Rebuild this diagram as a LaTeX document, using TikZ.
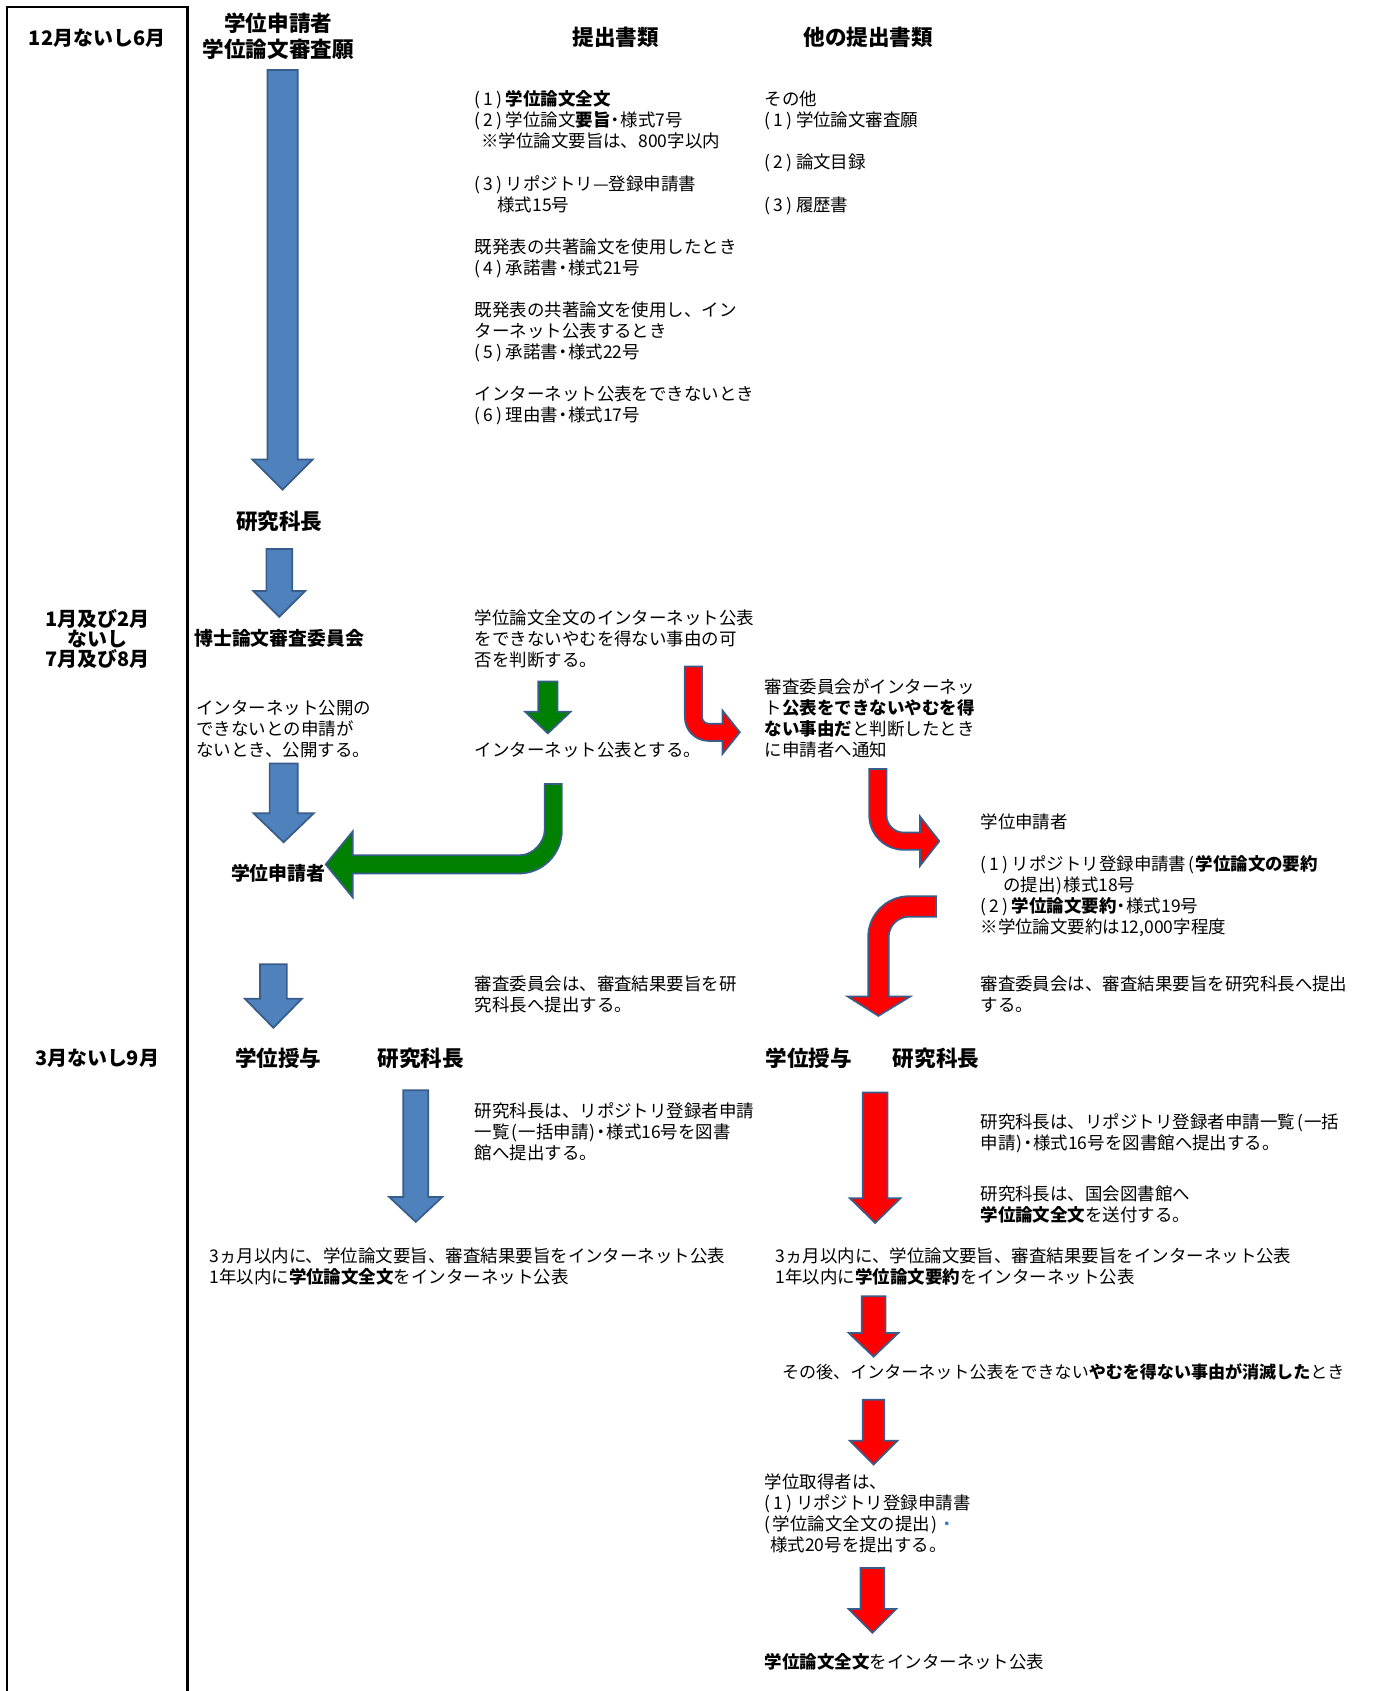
\documentclass[tikz,border=0pt]{standalone}
\usepackage{fontspec}
\setmainfont{Noto Sans CJK JP}
\definecolor{ablue}{HTML}{4F81BD}
\definecolor{aedge}{HTML}{385D8A}
\definecolor{ared}{HTML}{FF0000}
\definecolor{agreen}{HTML}{008000}
\definecolor{dotblue}{HTML}{2E75D6}
\newcommand\pn[1]{(\kern3pt#1\kern3pt)\kern3pt}
\newcommand\dt{\kern-0.22em・\kern-0.22em}
\newcommand\lp{\kern2pt(\kern1pt}
\newcommand\rp{\kern1pt)\kern1pt}
% straight down block arrow: style x1 x2 top headbase hx1 hx2 tip
\newcommand\downblock[8]{%
  \pgfmathsetmacro\cx{(#2+#3)/2}%
  \draw[#1] (#2,#4) -- (#3,#4) -- (#3,#5) -- (#7,#5) -- (\cx,#8) -- (#6,#5) -- (#2,#5) -- cycle;}
\begin{document}
\begin{tikzpicture}[x=1pt,y=-1pt,
  body/.style={anchor=base west, inner sep=0pt, align=left, text width=600pt, font=\fontsize{16.2}{19.5}\selectfont},
  head/.style={anchor=base, inner sep=0pt, font=\fontsize{20}{24}\selectfont\bfseries},
  month/.style={anchor=base, inner sep=0pt, align=center, text width=170pt, font=\fontsize{18.5}{18.5}\selectfont\bfseries},
  sub/.style={inner sep=0pt, font=\fontsize{17.5}{21}\selectfont\bfseries},
  blueblk/.style={fill=ablue, draw=aedge, line width=1.6pt, line join=miter},
  redblk/.style={fill=ared, draw=aedge, line width=1.6pt, line join=miter},
  greenblk/.style={fill=agreen, draw=aedge, line width=1.6pt, line join=miter}]
\useasboundingbox (0,0) rectangle (1282,1568);
\fill[white] (0,0) rectangle (1282,1568);
% month column frame
\draw[line width=2pt] (6.2,1570) -- (6.2,6.2) -- (173.8,6.2) -- (173.8,1570);
\node[month] (m1) at (90,42) {12月ないし6月};
\node[month] (m2) at (90,581) {1月及び2月\\ないし\\7月及び8月};
\node[month] (m3) at (90,988) {3月ないし9月};
% headers
\node[head, align=center, text width=220pt] (hdrA) at (258,29.6) {学位申請者\\学位論文審査願};
\node[head] (hdrB) at (571,42.6) {提出書類};
\node[head] (hdrC) at (805,42.6) {他の提出書類};
% documents
\node[body] (docs) at (440,98.2) {\pn{1}\textbf{学位論文全文}\\
\pn{2}学位論文\textbf{要旨}\dt 様式7号\\
\hspace*{6pt}※学位論文要旨は、800字以内\\[19.5pt]
\pn{3}リポジトリ—登録申請書\\
\hspace*{21pt}様式15号\\[19.5pt]
既発表の共著論文を使用したとき\\
\pn{4}承諾書\dt 様式21号\\[19.5pt]
既発表の共著論文を使用し、イン\\
ターネット公表するとき\\
\pn{5}承諾書\dt 様式22号\\[19.5pt]
インターネット公表をできないとき\\
\pn{6}理由書\dt 様式17号};
\node[body] (other) at (709,98.2) {その他\\
\pn{1}学位論文審査願\\[19.5pt]
\pn{2}論文目録\\[19.5pt]
\pn{3}履歴書};
% column 2 flow
\node[head] (kenkyu1) at (259,490.6) {研究科長};
\node[sub, anchor=base west] (iinkai) at (180,598.7) {博士論文審査委員会};
\node[body] (nopub) at (182,662.2) {インターネット公開の\\できないとの申請が\\ないとき、公開する。};
\node[sub, anchor=base] (appl1) at (258,816.7) {学位申請者};
\node[head] (grant1) at (258,988.6) {学位授与};
\node[head] (dean1) at (390,988.6) {研究科長};
\node[body] (pub1) at (194,1170.2) {3ヵ月以内に、学位論文要旨、審査結果要旨をインターネット公表\\1年以内に\textbf{学位論文全文}をインターネット公表};
% column 3 middle
\node[body] (judge) at (440,579.2) {学位論文全文のインターネット公表\\をできないやむを得ない事由の可\\否を判断する。};
\node[body] (pubok) at (440,701.2) {インターネット公表とする。};
\node[body] (rev1) at (440,918.2) {審査委員会は、審査結果要旨を研\\究科長へ提出する。};
\node[body] (lib1) at (440,1036.2) {研究科長は、リポジトリ登録者申請\\一覧\lp 一括申請\rp\dt 様式16号を図書\\館へ提出する。};
% right branch
\node[body] (notify) at (709,643.2) {審査委員会がインターネッ\\ト\textbf{公表をできないやむを得}\\\textbf{ない事由だ}と判断したとき\\に申請者へ通知};
\node[body] (appl2) at (909,768.2) {学位申請者\\[19.5pt]
\pn{1}リポジトリ登録申請書\lp\textbf{学位論文の要約}\\
\hspace*{21pt}の提出\rp 様式18号\\
\pn{2}\textbf{学位論文要約}\dt 様式19号\\
※学位論文要約は12,000字程度};
\node[body] (rev2) at (909,918.2) {審査委員会は、審査結果要旨を研究科長へ提出\\する。};
\node[head] (grant2) at (750,988.6) {学位授与};
\node[head] (dean2) at (868,988.6) {研究科長};
\node[body] (lib2) at (909,1046.2) {研究科長は、リポジトリ登録者申請一覧\lp 一括\\申請\rp\dt 様式16号を図書館へ提出する。};
\node[body] (ndl) at (909,1113.2) {研究科長は、国会図書館へ\\\textbf{学位論文全文}を送付する。};
\node[body] (pub2) at (719,1170.2) {3ヵ月以内に、学位論文要旨、審査結果要旨をインターネット公表\\1年以内に\textbf{学位論文要約}をインターネット公表};
\node[body, font=\fontsize{15.8}{19.5}\selectfont] (later) at (725,1278.2) {その後、インターネット公表をできない\textbf{やむを得ない事由が消滅した}とき};
\node[body] (holder) at (709,1380.2) {学位取得者は、\\\pn{1}リポジトリ登録申請書\\(\kern2pt学位論文全文の提出\rp\textcolor{dotblue}{・}\\\hspace*{5pt}様式20号を提出する。};
\node[body] (final) at (709,1547.2) {\textbf{学位論文全文}をインターネット公表};
% straight block arrows
\downblock{blueblk}{248}{276}{65}{426}{234}{290}{454}
\downblock{blueblk}{247}{271}{509}{548}{235}{283}{572}
\downblock{blueblk}{250}{276}{708}{754}{235}{291}{781}
\downblock{blueblk}{241}{266}{894}{926}{227}{280}{953}
\downblock{blueblk}{374}{397}{1011}{1110}{361}{410}{1133}
\downblock{greenblk}{499}{517}{632}{660}{487}{529}{680}
\downblock{redblk}{800}{823}{1013}{1111}{788}{835}{1134}
\downblock{redblk}{799}{821}{1202}{1236}{787}{833}{1258}
\downblock{redblk}{800}{820}{1298}{1336}{788}{832}{1358}
\downblock{redblk}{798}{820}{1454}{1492}{787}{831}{1514}
% green bent arrow (down then left)
\draw[greenblk] (505,727) -- (521,727) -- (521,770)
  .. controls (521,792.1) and (503.1,810) .. (481,810)
  -- (327,810) -- (327,832) -- (302,801.5) -- (327,771) -- (327,793)
  -- (482,793) .. controls (494.7,793) and (505,780.3) .. (505,770) -- cycle;
% red bent arrow 1 (down then right)
\draw[redblk] (635,618) -- (651,618) -- (651,665)
  .. controls (651,668.3) and (653.7,671) .. (657,671)
  -- (670,671) -- (670,659) -- (686,679) -- (670,699) -- (670,687)
  -- (657,687) .. controls (644.8,687) and (635,677.2) .. (635,665) -- cycle;
% red bent arrow 2 (down then right)
\draw[redblk] (806,713) -- (822,713) -- (822,756)
  .. controls (822,764.8) and (829.2,772) .. (838,772)
  -- (853,772) -- (853,757) -- (871,780) -- (853,803) -- (853,788)
  -- (838,788) .. controls (820.3,788) and (806,773.7) .. (806,756) -- cycle;
% red bent arrow 3 (left then down)
\draw[redblk] (868,831) -- (843,831)
  .. controls (822,831) and (805,848) .. (805,869)
  -- (805,924) -- (786,924) -- (814.5,942) -- (844,924) -- (824,924)
  -- (824,869) .. controls (824,858.5) and (832.5,850) .. (843,850)
  -- (868,850) -- cycle;
\end{tikzpicture}
\end{document}
